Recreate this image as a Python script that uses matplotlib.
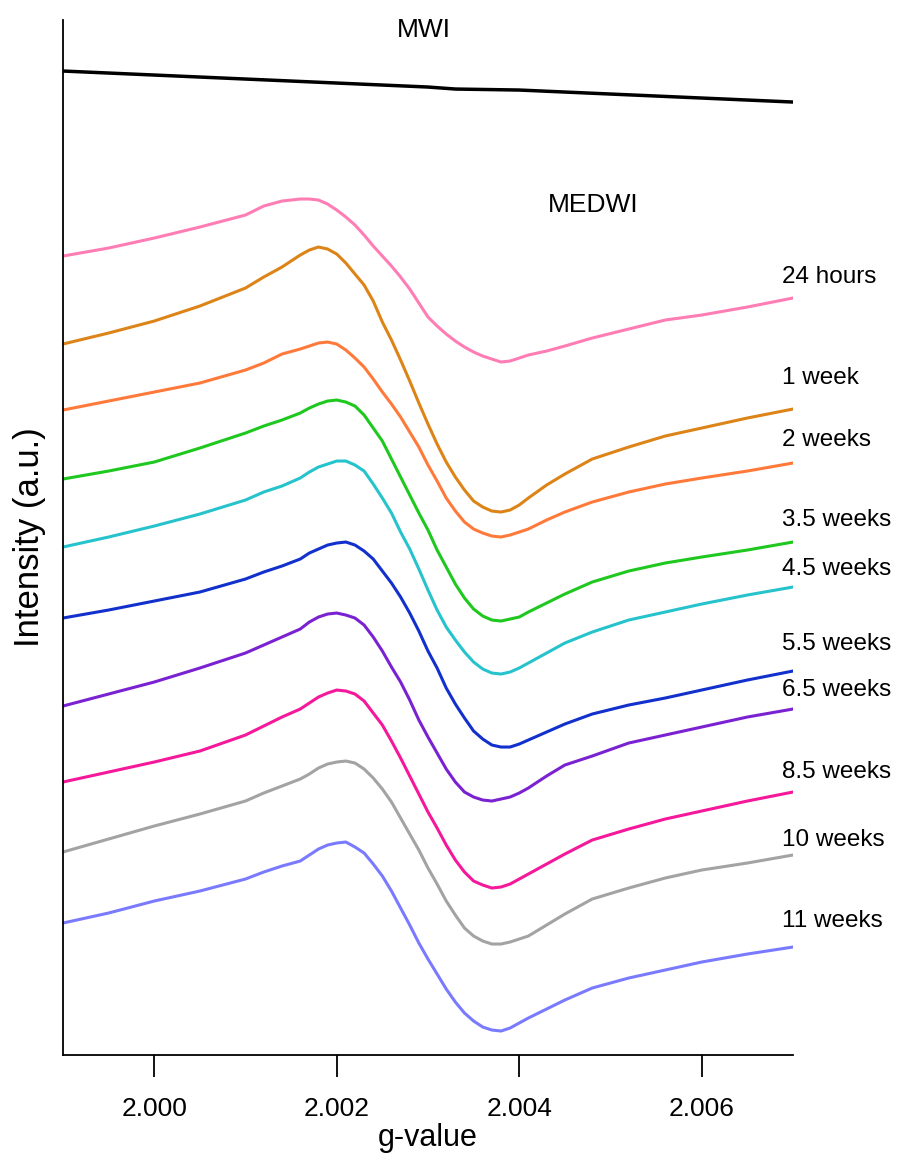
import numpy as np
import matplotlib
matplotlib.use("Agg")
import matplotlib.pyplot as plt

plt.rcParams['font.family'] = ['Liberation Sans', 'DejaVu Sans']

g = [1.9990, 1.9995, 2.0000, 2.0005, 2.0010, 2.0012, 2.0014,
     2.0016, 2.0017, 2.0018, 2.0019, 2.0020, 2.0021, 2.0022, 2.0023, 2.0024,
     2.0025, 2.0026, 2.0027, 2.0028, 2.0029, 2.0030, 2.0031, 2.0032, 2.0033,
     2.0034, 2.0035, 2.0036, 2.0037, 2.0038, 2.0039, 2.0040, 2.0041,
     2.0043, 2.0045, 2.0048, 2.0052, 2.0056, 2.0060, 2.0065, 2.0070]

# MWI trace (flat, no signal)
mwi_g = [1.9990, 2.0000, 2.0010, 2.0020, 2.0030, 2.0033, 2.0040, 2.0050, 2.0060, 2.0070]
mwi = [984, 980, 976, 972, 968, 966, 965, 961, 957, 953]

# MEDWI spectra (stacked, arbitrary units)
h24 = [799, 807, 817, 828, 840, 849, 854, 856, 856, 855, 851, 845, 838, 830,
       820, 809, 799, 789, 778, 766, 752, 738, 729, 721, 714, 708, 703, 699,
       696, 693, 694, 697, 700, 704, 709, 717, 726, 735, 740, 748, 757]
w1 = [711, 722, 734, 749, 767, 778, 788, 800, 805, 808, 806, 801, 792, 781,
      770, 754, 733, 715, 695, 674, 652, 631, 611, 593, 578, 565, 554, 548,
      544, 543, 545, 550, 557, 570, 581, 596, 608, 619, 627, 637, 646]
w2 = [645, 654, 663, 672, 685, 692, 701, 706, 709, 712, 713, 711, 705, 697,
      688, 676, 663, 651, 638, 623, 608, 590, 574, 557, 544, 533, 526, 522,
      519, 518, 520, 523, 526, 535, 543, 553, 563, 571, 577, 584, 592]
w3_5 = [576, 584, 593, 607, 622, 629, 635, 642, 647, 651, 654, 655, 653, 649,
        640, 627, 614, 596, 578, 560, 542, 525, 505, 488, 471, 457, 446, 439,
        435, 434, 436, 438, 443, 452, 461, 473, 484, 492, 498, 505, 513]
w4_5 = [508, 518, 529, 541, 555, 563, 569, 577, 583, 588, 591, 594, 594, 590,
        584, 571, 557, 542, 523, 506, 486, 465, 445, 428, 415, 403, 393, 386,
        382, 381, 383, 387, 392, 402, 412, 423, 435, 443, 451, 460, 468]
w5_5 = [437, 445, 454, 463, 476, 483, 489, 496, 502, 506, 510, 512, 513, 510,
        504, 496, 484, 472, 458, 442, 424, 404, 387, 367, 351, 337, 324, 316,
        310, 308, 308, 311, 315, 323, 331, 341, 350, 357, 365, 375, 384]
w6_5 = [349, 361, 373, 387, 402, 410, 418, 426, 433, 438, 441, 442, 440, 437,
        430, 418, 404, 388, 373, 355, 335, 318, 302, 286, 273, 263, 258, 255,
        254, 256, 258, 262, 267, 279, 290, 299, 312, 320, 328, 338, 346]
w8_5 = [273, 283, 293, 304, 320, 329, 338, 346, 352, 358, 362, 365, 364, 361,
        354, 342, 330, 314, 297, 279, 261, 243, 227, 210, 195, 183, 174, 170,
        167, 168, 171, 176, 181, 191, 201, 215, 226, 236, 244, 254, 263]
w10 = [203, 216, 229, 241, 254, 262, 269, 276, 281, 287, 291, 293, 294, 292,
       286, 277, 266, 253, 237, 221, 205, 187, 171, 154, 140, 127, 119, 114,
       111, 111, 113, 116, 119, 130, 141, 156, 167, 177, 185, 192, 200]
w11 = [132, 142, 154, 164, 176, 183, 189, 194, 200, 206, 210, 212, 213, 208,
       202, 191, 179, 164, 147, 130, 112, 96, 81, 66, 53, 42, 34, 28,
       25, 24, 27, 32, 37, 46, 55, 67, 77, 85, 93, 101, 108]

series = [h24, w1, w2, w3_5, w4_5, w5_5, w6_5, w8_5, w10, w11]
labels = ['24 hours', '1 week', '2 weeks', '3.5 weeks', '4.5 weeks',
          '5.5 weeks', '6.5 weeks', '8.5 weeks', '10 weeks', '11 weeks']
colors = ['#ff7db5', '#dc8418', '#ff7a3a', '#1fc81f', '#26c3cc',
          '#1230cc', '#7a22d2', '#f5189a', '#a3a3a3', '#7a7aff']
# where each label sits (intensity units)
label_y = [778, 677, 615, 535, 486, 411, 365, 283, 215, 134]

fig = plt.figure(figsize=(9.05, 11.65), dpi=100)
ax = fig.add_axes([0.0696, 0.0944, 0.8066, 0.8884])

ax.plot(mwi_g, mwi, color='black', lw=2.5)
for ys, c in zip(series, colors):
    ax.plot(g, ys, color=c, lw=2.2)

for lab, ly in zip(labels, label_y):
    ax.text(2.00688, ly, lab, fontsize=17.5, ha='left', va='center', clip_on=False)

ax.text(2.00295, 1025, 'MWI', fontsize=19, ha='center', va='center')
ax.text(2.00481, 850, 'MEDWI', fontsize=19, ha='center', va='center')

ax.set_xlim(1.9990, 2.0070)
ax.set_ylim(0, 1035)
ax.set_xticks([2.000, 2.002, 2.004, 2.006])
ax.set_xticklabels(['2.000', '2.002', '2.004', '2.006'])
ax.set_yticks([])
ax.tick_params(axis='x', direction='out', length=16, width=1.3, labelsize=19, pad=14)
for side in ['top', 'right']:
    ax.spines[side].set_visible(False)
for side in ['left', 'bottom']:
    ax.spines[side].set_linewidth(1.3)

ax.set_xlabel('g-value', fontsize=22, labelpad=2)
ax.set_ylabel('Intensity (a.u.)', fontsize=25, labelpad=12)

fig.savefig('out.png', dpi=100)
